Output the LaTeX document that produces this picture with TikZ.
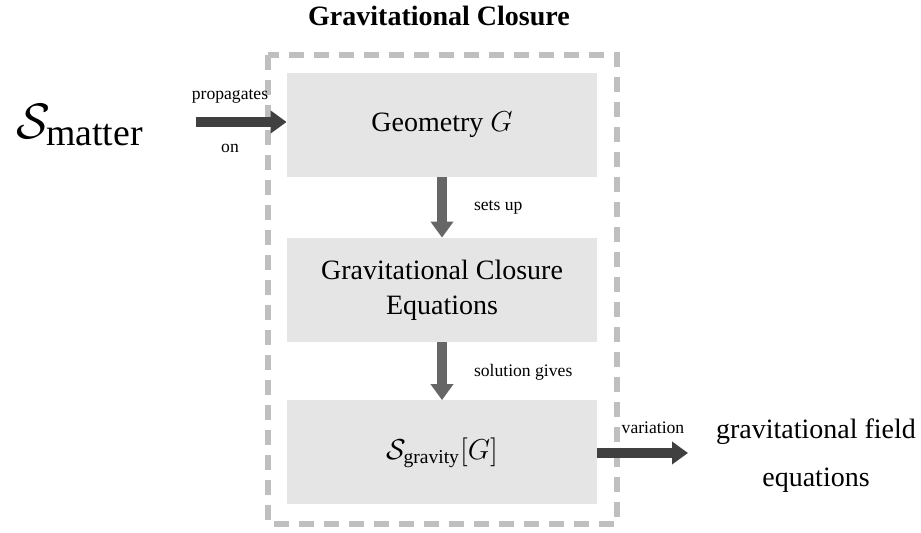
\documentclass[tikz,border=0pt]{standalone}
\usepackage{fontspec}
\setmainfont{Liberation Serif}
\usepackage{tikz}
\usetikzlibrary{arrows.meta, positioning}

\begin{document}
\begin{tikzpicture}[x=0.5pt,y=-0.5pt,
	block/.style={fill=black!10, minimum width=155pt, minimum height=52pt, align=center, font=\fontsize{14}{17.5}\selectfont},
	flow/.style={line width=5pt, draw=black!60, -{Triangle[length=8pt,width=11pt]}},
	sideflow/.style={flow, draw=black!75},
	lbl/.style={font=\fontsize{8.8}{11}\selectfont}]
	\useasboundingbox (0,0) rectangle (921,533);
	% Title
	\node[font=\bfseries\fontsize{14}{16}\selectfont] (title) at (439,16) {Gravitational Closure};
	% Dashed frame
	\draw[line width=3pt, draw=black!25, dash pattern=on 7.5pt off 5pt] (268,55) rectangle (617,524);
	% Blocks
	\node[block] (geom) at (442,125) {Geometry $G$};
	\node[block] (gce) at (442,290) {Gravitational Closure\\Equations};
	\node[block] (sgrav) at (442,452.5) {$\mathcal{S}_{\mathrm{gravity}}[G]$};
	% Outside
	\node[font=\fontsize{27}{30}\selectfont] (smat) at (80,125) {$\mathcal{S}_{\mathrm{matter}}$};
	\node[align=center, font=\fontsize{14}{24}\selectfont] (gfe) at (816,456) {gravitational field\\equations};
	\coordinate (in) at (196,122);
	\coordinate (out) at (688,453);
	% Arrows
	\draw[sideflow] (in) -- (geom.west |- in);
	\draw[flow] (geom) -- (gce);
	\draw[flow] (gce) -- (sgrav);
	\draw[sideflow] (sgrav.east |- out) -- (out);
	% Labels
	\node[lbl] (prop) at (230,96) {propagates};
	\node[lbl] (on) at (230,148) {on};
	\node[lbl, right] (setsup) at (467,207) {sets up};
	\node[lbl, right] (sol) at (467,372) {solution gives};
	\node[lbl] (var) at (653,428) {variation};
\end{tikzpicture}
\end{document}
